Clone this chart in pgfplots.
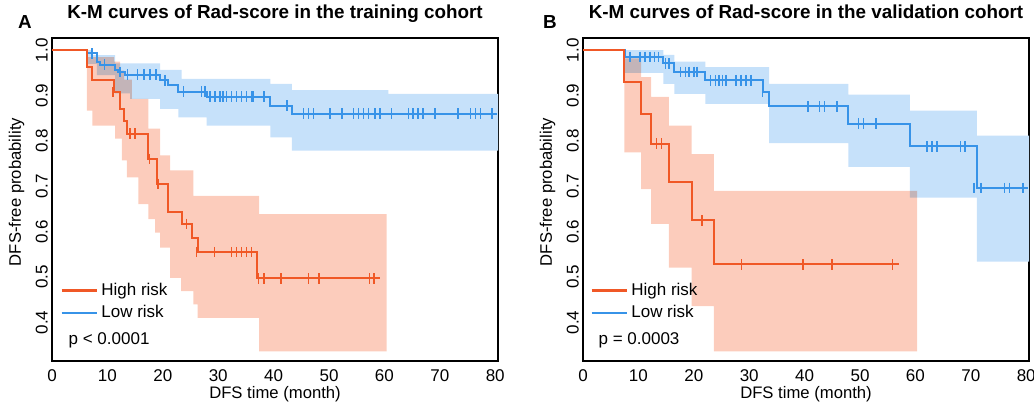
\documentclass[border=0pt]{standalone}
\usepackage{fontspec}
\setmainfont{Liberation Sans}
\usepackage{pgfplots}
\pgfplotsset{compat=1.18}
\usepgfplotslibrary{fillbetween}

\definecolor{hiline}{RGB}{240,88,38}
\definecolor{hifill}{RGB}{252,204,188}
\definecolor{loline}{RGB}{55,147,232}
\definecolor{lofill}{RGB}{198,225,250}

\pgfplotsset{
  km/.style={
    scale only axis, width=267.6pt, height=193.8pt,
    xmin=0, xmax=80.5, ymin=0.315, ymax=1.027,
    xtick={0,10,20,30,40,50,60,70,80},
    ytick={0.4,0.5,0.6,0.7,0.8,0.9,1.0},
    major tick length=0pt,
    axis line style={line width=1.3pt},
    tick label style={font=\fontsize{10.2}{12}\selectfont},
    /pgf/number format/assume math mode=true,
    yticklabel style={rotate=90, anchor=base,
      /pgf/number format/fixed, /pgf/number format/fixed zerofill,
      /pgf/number format/precision=1},
    yticklabel shift=2.6pt,
    xticklabel style={anchor=base},
    xticklabel shift=12.4pt,
    title style={at={(0.5,1)}, anchor=base, yshift=5.4pt,
      font=\bfseries\fontsize{11.3}{13}\selectfont},
    xlabel style={at={(0.5,0)}, anchor=base, yshift=-22.8pt,
      font=\fontsize{10}{12}\selectfont},
    ylabel style={at={(-0.0796,0.523)}, anchor=center,
      font=\fontsize{10}{12}\selectfont},
    xlabel={DFS time (month)},
    ylabel={DFS-free probability},
    legend cell align=left,
    legend image code/.code={\draw[##1] (0pt,0pt) -- (21pt,0pt);},
    legend style={draw=none, fill=none, inner sep=0pt,
      font=\fontsize{10.2}{12}\selectfont,
      nodes={inner sep=1pt}, row sep=2.6pt, column sep=1pt},
  },
  kmline/.style={const plot, line width=1.2pt, forget plot},
  cens/.style={only marks, mark=|, mark size=3.2pt,
    mark options={line width=0.9pt}, forget plot},
  band/.style={draw=none, const plot, forget plot},
}

\begin{document}
\begin{tikzpicture}
% ---------- A: training cohort ----------
\begin{axis}[km, name=A, at={(0pt,0pt)}, anchor=south west,
  title={K-M curves of Rad-score in the training cohort},
  legend style={at={(0.018,0.248)}, anchor=north west}]
  % low risk CI
  \addplot[band, name path=aLU] coordinates {(6.3,1.0) (7.2,0.989) (11.4,0.971) (19.5,0.957) (23.4,0.937) (39.4,0.926) (43.3,0.912) (60.7,0.904) (80.5,0.904)};
  \addplot[band, name path=aLL] coordinates {(6.3,0.97) (8.1,0.945) (11.4,0.905) (14.1,0.893) (19.5,0.871) (22.8,0.852) (27.9,0.834) (39.4,0.808) (43.3,0.779) (80.5,0.779)};
  \addplot[lofill, forget plot] fill between[of=aLU and aLL];
  % high risk CI
  \addplot[band, name path=aHU] coordinates {(6.3,0.985) (11.2,0.975) (12.3,0.955) (13.0,0.935) (14.4,0.893) (17.4,0.827) (19.5,0.768) (21.3,0.735) (25.5,0.679) (37.4,0.639) (60.4,0.639)};
  \addplot[band, name path=aHL] coordinates {(6.3,0.867) (7.3,0.834) (11.4,0.805) (12.6,0.757) (13.5,0.720) (15.6,0.661) (17.4,0.628) (18.6,0.598) (19.5,0.565) (21.3,0.498) (23.3,0.469) (25.5,0.440) (26.3,0.410) (37.4,0.336) (60.4,0.336)};
  \addplot[hifill, blend mode=multiply, forget plot] fill between[of=aHU and aHL];
  % curves
  \addplot[kmline, loline] coordinates {(0,1) (6.3,0.993) (8.1,0.974) (8.7,0.968) (11.4,0.957) (12.0,0.952) (13.2,0.946) (19.5,0.934) (21.0,0.923) (22.8,0.909) (27.9,0.898) (39.4,0.878) (43.3,0.860) (80.3,0.860)};
  \addplot[kmline, hiline] coordinates {(0,1) (6.3,0.962) (7.3,0.934) (11.2,0.908) (12.3,0.87) (13.0,0.845) (13.6,0.816) (17.4,0.760) (18.9,0.705) (21.0,0.644) (23.4,0.617) (25.2,0.587) (26.3,0.555) (37.0,0.497) (59.2,0.497)};
  \addplot[cens, loline] coordinates {(7.2,0.993) (9.5,0.968) (12.3,0.952) (13.6,0.946) (15.4,0.946) (16.6,0.946) (17.7,0.946) (18.8,0.946) (20.4,0.934) (23.7,0.909) (27.0,0.909) (27.6,0.909) (28.5,0.898) (29.4,0.898) (30.3,0.898) (30.9,0.898) (31.5,0.898) (32.4,0.898) (33.3,0.898) (34.2,0.898) (35.1,0.898) (36.0,0.898) (36.3,0.898) (38.3,0.898) (42.4,0.878) (45.4,0.86) (46.3,0.86) (47.2,0.86) (50.2,0.86) (52.3,0.86) (54.4,0.86) (55.3,0.86) (56.2,0.86) (57.1,0.86) (58.3,0.86) (59.2,0.86) (61.3,0.86) (64.3,0.86) (65.2,0.86) (66.1,0.86) (67.0,0.86) (69.1,0.86) (73.3,0.86) (75.5,0.86) (76.4,0.86) (77.3,0.86) (79.4,0.86)};
  \addplot[cens, hiline] coordinates {(11.0,0.908) (14.1,0.816) (15.0,0.816) (17.6,0.760) (19.1,0.705) (24.3,0.617) (26.1,0.555) (29.3,0.555) (32.4,0.555) (33.3,0.555) (34.2,0.555) (35.1,0.555) (36.0,0.555) (37.3,0.497) (38.3,0.497) (41.3,0.497) (46.3,0.497) (48.2,0.497) (57.3,0.497) (58.1,0.497)};
  \addlegendimage{hiline, line width=1.6pt}\addlegendentry{High risk}
  \addlegendimage{loline, line width=1.2pt}\addlegendentry{Low risk}
  \node[anchor=base west, inner sep=0pt, font=\fontsize{10.2}{12}\selectfont] at (rel axis cs:0.0366,0.0526) {p < 0.0001};
\end{axis}
% ---------- B: validation cohort ----------
\begin{axis}[km, name=B, at={(318.6pt,0pt)}, anchor=south west,
  title={K-M curves of Rad-score in the validation cohort},
  legend style={at={(0.0157,0.248)}, anchor=north west}]
  \addplot[band, name path=bLU] coordinates {(7.6,1.0) (14.5,0.99) (16.5,0.975) (22.1,0.963) (33.6,0.926) (47.9,0.902) (59.0,0.867) (71.1,0.812) (80.5,0.812)};
  \addplot[band, name path=bLL] coordinates {(7.6,0.95) (14.5,0.926) (16.5,0.904) (22.1,0.882) (33.6,0.795) (47.9,0.743) (59.0,0.675) (71.1,0.534) (80.5,0.534)};
  \addplot[lofill, forget plot] fill between[of=bLU and bLL];
  \addplot[band, name path=bHU] coordinates {(7.45,0.982) (10.5,0.941) (12.3,0.897) (15.5,0.834) (19.6,0.771) (23.6,0.690) (60.3,0.690)};
  \addplot[band, name path=bHL] coordinates {(7.45,0.775) (10.5,0.694) (12.3,0.617) (15.5,0.521) (19.6,0.436) (23.6,0.336) (60.3,0.336)};
  \addplot[hifill, blend mode=multiply, forget plot] fill between[of=bHU and bHL];
  \addplot[kmline, loline] coordinates {(0,1) (7.6,0.985) (14.5,0.971) (16.5,0.952) (22.1,0.934) (32.4,0.908) (33.6,0.876) (47.9,0.838) (59.0,0.788) (71.1,0.696) (80.3,0.696)};
  \addplot[kmline, hiline] coordinates {(0,1) (7.45,0.930) (10.5,0.860) (12.3,0.794) (15.5,0.709) (19.6,0.625) (23.6,0.528) (57.0,0.528)};
  \addplot[cens, loline] coordinates {(8.5,0.985) (10.3,0.985) (11.2,0.985) (12.1,0.985) (12.9,0.985) (13.6,0.985) (14.9,0.971) (15.5,0.971) (17.6,0.952) (18.5,0.952) (19.1,0.952) (20.0,0.952) (20.6,0.952) (23.0,0.934) (23.9,0.934) (24.5,0.934) (25.2,0.934) (25.8,0.934) (27.6,0.934) (28.5,0.934) (29.4,0.934) (30.3,0.934) (32.4,0.908) (40.6,0.876) (42.7,0.876) (43.6,0.876) (45.8,0.876) (49.7,0.838) (50.6,0.838) (52.9,0.838) (62.1,0.788) (63.0,0.788) (63.9,0.788) (68.1,0.788) (68.9,0.788) (70.6,0.696) (71.8,0.696) (76.1,0.696) (77.0,0.696) (79.4,0.696)};
  \addplot[cens, hiline] coordinates {(13.3,0.794) (14.2,0.794) (21.5,0.625) (28.6,0.528) (39.7,0.528) (44.9,0.528) (55.9,0.528)};
  \addlegendimage{hiline, line width=1.6pt}\addlegendentry{High risk}
  \addlegendimage{loline, line width=1.2pt}\addlegendentry{Low risk}
  \node[anchor=base west, inner sep=0pt, font=\fontsize{10.2}{12}\selectfont] at (rel axis cs:0.0343,0.0526) {p = 0.0003};
\end{axis}
\node[anchor=base, inner sep=0pt, font=\bfseries\fontsize{11.3}{13}\selectfont] at (-16.2pt,199.2pt) {A};
\node[anchor=base, inner sep=0pt, font=\bfseries\fontsize{11.3}{13}\selectfont] at (298.8pt,199.2pt) {B};
\pgfresetboundingbox
\useasboundingbox (-31.2pt,-25.8pt) rectangle (589.2pt,216.6pt);
\end{tikzpicture}
\end{document}
